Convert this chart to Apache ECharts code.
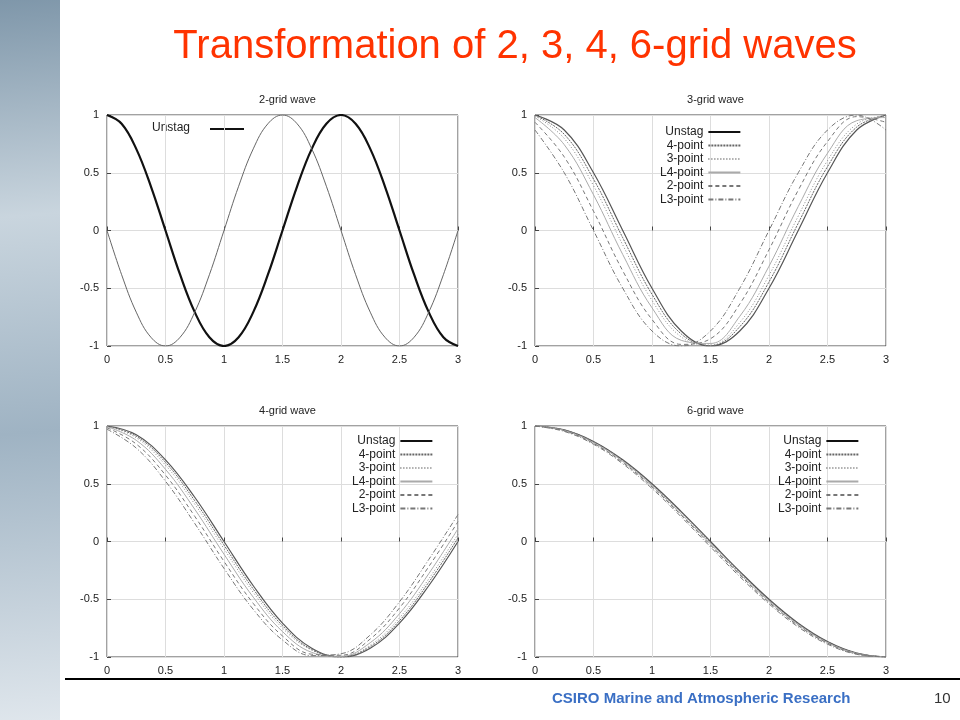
<!DOCTYPE html>
<html>
<head>
<meta charset="utf-8">
<script src="https://cdn.jsdelivr.net/npm/echarts@6/dist/echarts.min.js"></script>
<style>
body { margin: 0; background: #fff; }
#main { width: 960px; height: 720px; }
</style>
</head>
<body>
<div id="main"></div>
<script>
// x positions
var xs = [0, 0.25, 0.5, 0.75, 1, 1.25, 1.5, 1.75, 2, 2.25, 2.5, 2.75, 3];
var xs2 = [0, .125, .25, .375, .5, .625, .75, .875, 1, 1.125, 1.25, 1.375, 1.5, 1.625, 1.75, 1.875, 2,
	2.125, 2.25, 2.375, 2.5, 2.625, 2.75, 2.875, 3];
var names = ['Unstag', '4-point', '3-point', 'L4-point', '2-point', 'L3-point'];

// 2-grid wave
var g2_unstag = [1, .924, .707, .383, 0, -.383, -.707, -.924, -1, -.924, -.707, -.383, 0, .383, .707, .924, 1,
	.924, .707, .383, 0, -.383, -.707, -.924, -1];
var g2_other = [0, -.383, -.707, -.924, -1, -.924, -.707, -.383, 0, .383, .707, .924, 1, .924, .707, .383, 0,
	-.383, -.707, -.924, -1, -.924, -.707, -.383, 0];

// 3-grid wave
var g3 = [
	[1, .87, .5, 0, -.5, -.87, -1, -.87, -.5, 0, .5, .87, 1],
	[.998, .833, .445, -.063, -.553, -.896, -.998, -.833, -.445, .063, .553, .896, .998],
	[.992, .797, .388, -.125, -.605, -.922, -.992, -.797, -.388, .125, .605, .922, .992],
	[.978, .743, .309, -.208, -.669, -.951, -.978, -.743, -.309, .208, .669, .951, .978],
	[.937, .637, .167, -.349, -.770, -.986, -.937, -.637, -.167, .349, .770, .986, .937],
	[.87, .5, 0, -.5, -.87, -1, -.87, -.5, 0, .5, .87, 1, .87]
];

// 4-grid wave
var g4 = [
	[1, .924, .707, .383, 0, -.383, -.707, -.924, -1, -.924, -.707, -.383, 0],
	[.9995, .911, .685, .353, -.031, -.412, -.729, -.935, -.9995, -.911, -.685, -.353, .031],
	[.998, .898, .661, .324, -.063, -.440, -.750, -.941, -.998, -.898, -.661, -.324, .063],
	[.994, .876, .625, .279, -.110, -.482, -.780, -.960, -.994, -.876, -.625, -.279, .110],
	[.985, .844, .575, .218, -.172, -.536, -.818, -.976, -.985, -.844, -.575, -.218, .172],
	[.972, .809, .522, .156, -.233, -.588, -.853, -.988, -.972, -.809, -.522, -.156, .233]
];

// 6-grid wave
var g6 = [
	[1, .966, .866, .707, .5, .259, 0, -.259, -.5, -.707, -.866, -.966, -1],
	[1, .965, .863, .703, .495, .254, -.005, -.264, -.505, -.711, -.868, -.967, -1],
	[1, .964, .861, .700, .491, .249, -.010, -.269, -.509, -.714, -.871, -.968, -1],
	[1, .961, .855, .693, .482, .238, -.021, -.279, -.518, -.722, -.876, -.970, -1],
	[.9995, .958, .849, .684, .473, .228, -.031, -.289, -.527, -.729, -.880, -.973, -.9995],
	[.999, .953, .842, .673, .459, .213, -.047, -.304, -.540, -.740, -.889, -.977, -.999]
];

var styles = [
	{ color: '#555', width: 1.2, type: 'solid' },
	{ color: '#666', width: 1, type: [2, 1] },
	{ color: '#888', width: 1, type: [1, 2] },
	{ color: '#aaa', width: 1, type: 'solid' },
	{ color: '#777', width: 1, type: [4, 3] },
	{ color: '#777', width: 1, type: [5, 2, 1, 2] }
];

var pairs = function(x, arr) {
	var out = [];
	for (var i = 0; i < x.length; i++) out.push([x[i], arr[i]]);
	return out;
};

var boxes = [
	{ left: 107, top: 115, title: '2-grid wave' },
	{ left: 535, top: 115, title: '3-grid wave' },
	{ left: 107, top: 426, title: '4-grid wave' },
	{ left: 535, top: 426, title: '6-grid wave' }
];
var W = 351, H = 231;
var font = 'Liberation Sans';

var grid = [], xAxis = [], yAxis = [], series = [], legend = [], titles = [];
var axisFont = { fontSize: 11, color: '#222', fontFamily: font };
for (var k = 0; k < 4; k++) {
	var b = boxes[k];
	grid.push({ left: b.left, top: b.top, width: W, height: H, show: true, borderColor: '#444', borderWidth: 1 });
	xAxis.push({ gridIndex: k, type: 'value', min: 0, max: 3, interval: 0.5,
		axisLine: { show: false }, axisTick: { show: true, inside: true, length: 4, lineStyle: { color: '#444' } },
		axisLabel: axisFont, splitLine: { lineStyle: { color: '#ddd' } } });
	yAxis.push({ gridIndex: k, type: 'value', min: -1, max: 1, interval: 0.5,
		axisLine: { show: false }, axisTick: { show: true, inside: true, length: 4, lineStyle: { color: '#444' } },
		axisLabel: axisFont, splitLine: { lineStyle: { color: '#ddd' } } });
	titles.push({ text: b.title, left: b.left + W / 2, top: b.top - 26, textAlign: 'center',
		textStyle: { fontSize: 11, fontWeight: 'normal', color: '#222', fontFamily: font } });
}

// 2-grid panel
series.push({ name: 'Unstag', id: 'g2u', type: 'line', xAxisIndex: 0, yAxisIndex: 0, smooth: 0.4, symbol: 'none',
	data: pairs(xs2, g2_unstag), lineStyle: { color: '#111', width: 2.2 }, itemStyle: { color: '#111' } });
series.push({ name: 'wave', type: 'line', xAxisIndex: 0, yAxisIndex: 0, smooth: 0.4, symbol: 'none',
	data: pairs(xs2, g2_other), lineStyle: { color: '#666', width: 1 } });

var sets = [g3, g4, g6];
var legendLeft = [655, 347, 773];
var legendTop = [121, 430, 430];
for (var p = 0; p < 3; p++) {
	for (var s = 0; s < 6; s++) {
		series.push({ name: names[s], type: 'line', xAxisIndex: p + 1, yAxisIndex: p + 1, smooth: 0.4,
			symbol: 'none', data: pairs(xs, sets[p][s]), lineStyle: styles[s], itemStyle: { color: styles[s].color } });
	}
	legend.push({ left: legendLeft[p], top: legendTop[p], orient: 'vertical',
		align: 'right', itemGap: 1.5, itemWidth: 32, itemHeight: 10, data: names, selectedMode: false,
		itemStyle: { opacity: 0 },
		textStyle: { fontSize: 12, color: '#222', fontFamily: font } });
}

var myChart = echarts.init(document.getElementById('main'));
myChart.setOption({
	animation: false,
	title: [{ text: 'Transformation of 2, 3, 4, 6-grid waves', left: 510, top: 22, textAlign: 'center',
		textStyle: { fontSize: 40, fontWeight: 'normal', color: '#ff3300', fontFamily: font } }].concat(titles),
	grid: grid, xAxis: xAxis, yAxis: yAxis, legend: legend, series: series,
	graphic: [
		{ type: 'rect', shape: { x: 0, y: 0, width: 60, height: 720 },
			style: { fill: new echarts.graphic.LinearGradient(0, 0, 1, 1, [
				{ offset: 0, color: '#7f97aa' }, { offset: 0.3, color: '#c9d5de' },
				{ offset: 0.6, color: '#9fb3c3' }, { offset: 1, color: '#dfe6ec' }]) } },
		// legend entry for the 2-grid panel
		{ type: 'text', left: 152, top: 122, style: { text: 'Unstag', fill: '#222', font: '12px ' + font } },
		{ type: 'line', shape: { x1: 210, y1: 129, x2: 244, y2: 129 }, style: { stroke: '#111', lineWidth: 2.2 } },
		{ type: 'line', shape: { x1: 65, y1: 679, x2: 960, y2: 679 }, style: { stroke: '#000', lineWidth: 2 } },
		{ type: 'text', left: 552, top: 691, style: { text: 'CSIRO Marine and Atmospheric Research',
			fill: '#3a6fc4', font: 'bold 15px ' + font } },
		{ type: 'text', left: 934, top: 691, style: { text: '10', fill: '#333', font: '15px ' + font } }
	]
});
</script>
</body>
</html>
